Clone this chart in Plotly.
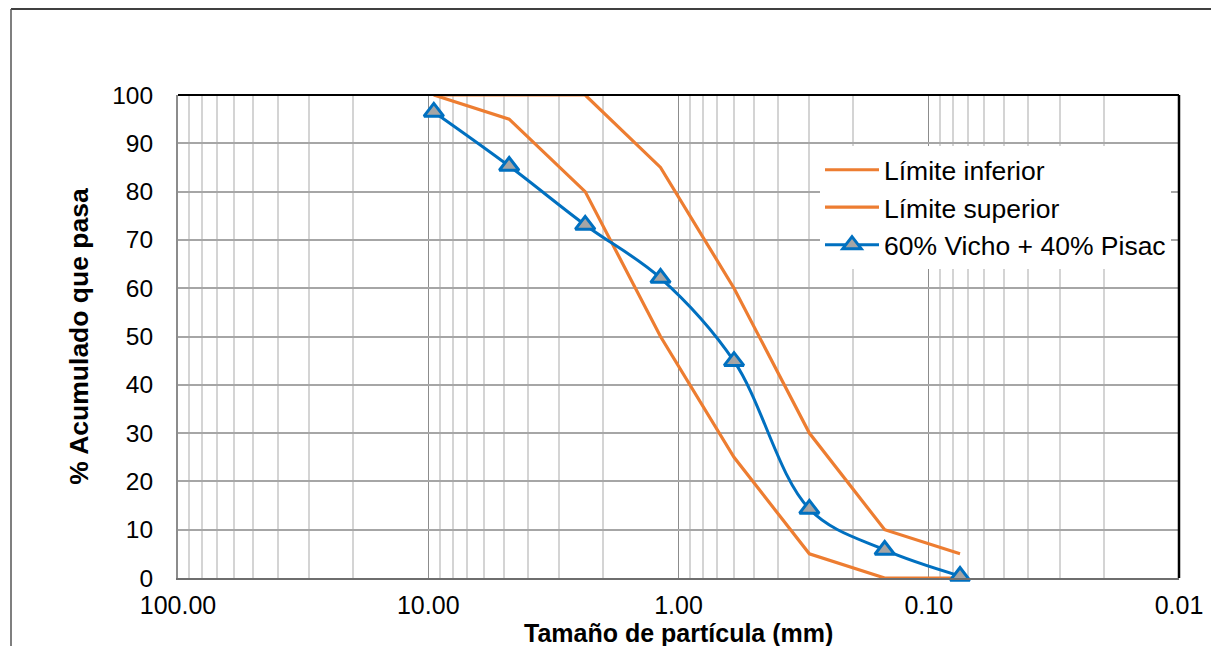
import plotly.graph_objects as go

# Data
sieve_mm = [9.5, 4.75, 2.36, 1.18, 0.6, 0.3, 0.15, 0.075]
lim_inferior = [100, 95, 80, 50, 25, 5, 0, 0]
lim_superior = [100, 100, 100, 85, 60, 30, 10, 5]
mezcla = [96.5, 85.3, 73.1, 62.1, 44.9, 14.3, 5.8, 0.4]

x_major = [100, 10, 1, 0.1, 0.01]
x_major_text = ["100.00", "10.00", "1.00", "0.10", "0.01"]
x_minor = [m * d for d in [10, 1, 0.1, 0.01] for m in range(2, 10)]
y_ticks = list(range(0, 101, 10))

FONT = "Liberation Sans, Arial, sans-serif"
ORANGE = "#ED7D31"
BLUE = "#0070C0"

fig = go.Figure()
fig.add_trace(go.Scatter(x=sieve_mm, y=lim_inferior, mode="lines", name="Límite inferior",
                         line=dict(color=ORANGE, width=3.2), cliponaxis=False))
fig.add_trace(go.Scatter(x=sieve_mm, y=lim_superior, mode="lines", name="Límite superior",
                         line=dict(color=ORANGE, width=3.2), cliponaxis=False))
fig.add_trace(go.Scatter(x=sieve_mm, y=mezcla, mode="lines+markers", name="60% Vicho + 40% Pisac",
                         line=dict(color=BLUE, width=3, shape="spline", smoothing=1.0),
                         marker=dict(symbol="triangle-up", size=17, color="#A5A5A5",
                                     line=dict(color=BLUE, width=3)),
                         cliponaxis=False))

L, R, T, B = 178, 32, 95, 68
W, H = 1211, 646
pw, ph = W - L - R, H - T - B

fig.update_layout(
    width=W, height=H,
    margin=dict(l=L, r=R, t=T, b=B, autoexpand=False),
    paper_bgcolor="white", plot_bgcolor="white",
    font=dict(family=FONT, color="black", size=26),
    showlegend=True,
    legend=dict(x=(820 - L) / pw, y=(H - B - 146) / ph, xanchor="left", yanchor="top",
                bgcolor="white", borderwidth=0, font=dict(size=26.5, family=FONT),
                itemwidth=54),
    xaxis=dict(type="log", range=[2, -2], tickmode="array", tickvals=x_major,
               ticktext=x_major_text, showgrid=True, gridcolor="#8C8C8C", gridwidth=1,
               minor=dict(tickvals=x_minor, showgrid=True, gridcolor="#D4D4D4", gridwidth=1.5, ticks=""),
               showline=True, linecolor="#6E6E6E", linewidth=2, ticks="", zeroline=False,
               tickfont=dict(size=25), ticklabelstandoff=4, automargin=False),
    yaxis=dict(range=[0, 100], tickmode="array", tickvals=y_ticks, showgrid=True,
               gridcolor="#A6A6A6", gridwidth=1.5, showline=True, linecolor="#8C8C8C",
               linewidth=2, ticks="", zeroline=False, tickfont=dict(size=24.5), ticklabelstandoff=18,
               automargin=False,
               title=dict(text="<b>% Acumulado que pasa</b>", font=dict(size=26.5), standoff=16)),
)

# x-axis title placed as annotation just below tick labels
fig.add_annotation(text="<b>Tamaño de partícula (mm)</b>", xref="paper", yref="paper",
                   x=0.5, y=-(632.5 - (H - B)) / ph, xanchor="center", yanchor="middle",
                   showarrow=False, font=dict(size=25, family=FONT, color="black"))

# plot-area top/right border (black) and outer chart frame
fig.add_shape(type="line", xref="paper", yref="paper", x0=0, x1=1, y0=1, y1=1,
              line=dict(color="black", width=2))
fig.add_shape(type="line", xref="paper", yref="paper", x0=1, x1=1, y0=0, y1=1,
              line=dict(color="black", width=2.5))
fx0 = (11 - L) / pw
fy0 = (H - B - 9) / ph
fig.add_shape(type="line", xref="paper", yref="paper", x0=fx0, x1=(W - L) / pw, y0=fy0, y1=fy0,
              line=dict(color="black", width=1.5))
fig.add_shape(type="line", xref="paper", yref="paper", x0=fx0, x1=fx0, y0=fy0, y1=-B / ph,
              line=dict(color="#555555", width=1.5))

fig.write_html("out.html", config={"displayModeBar": False},
               post_script="document.body.style.margin='0';document.body.style.overflow='hidden';")
